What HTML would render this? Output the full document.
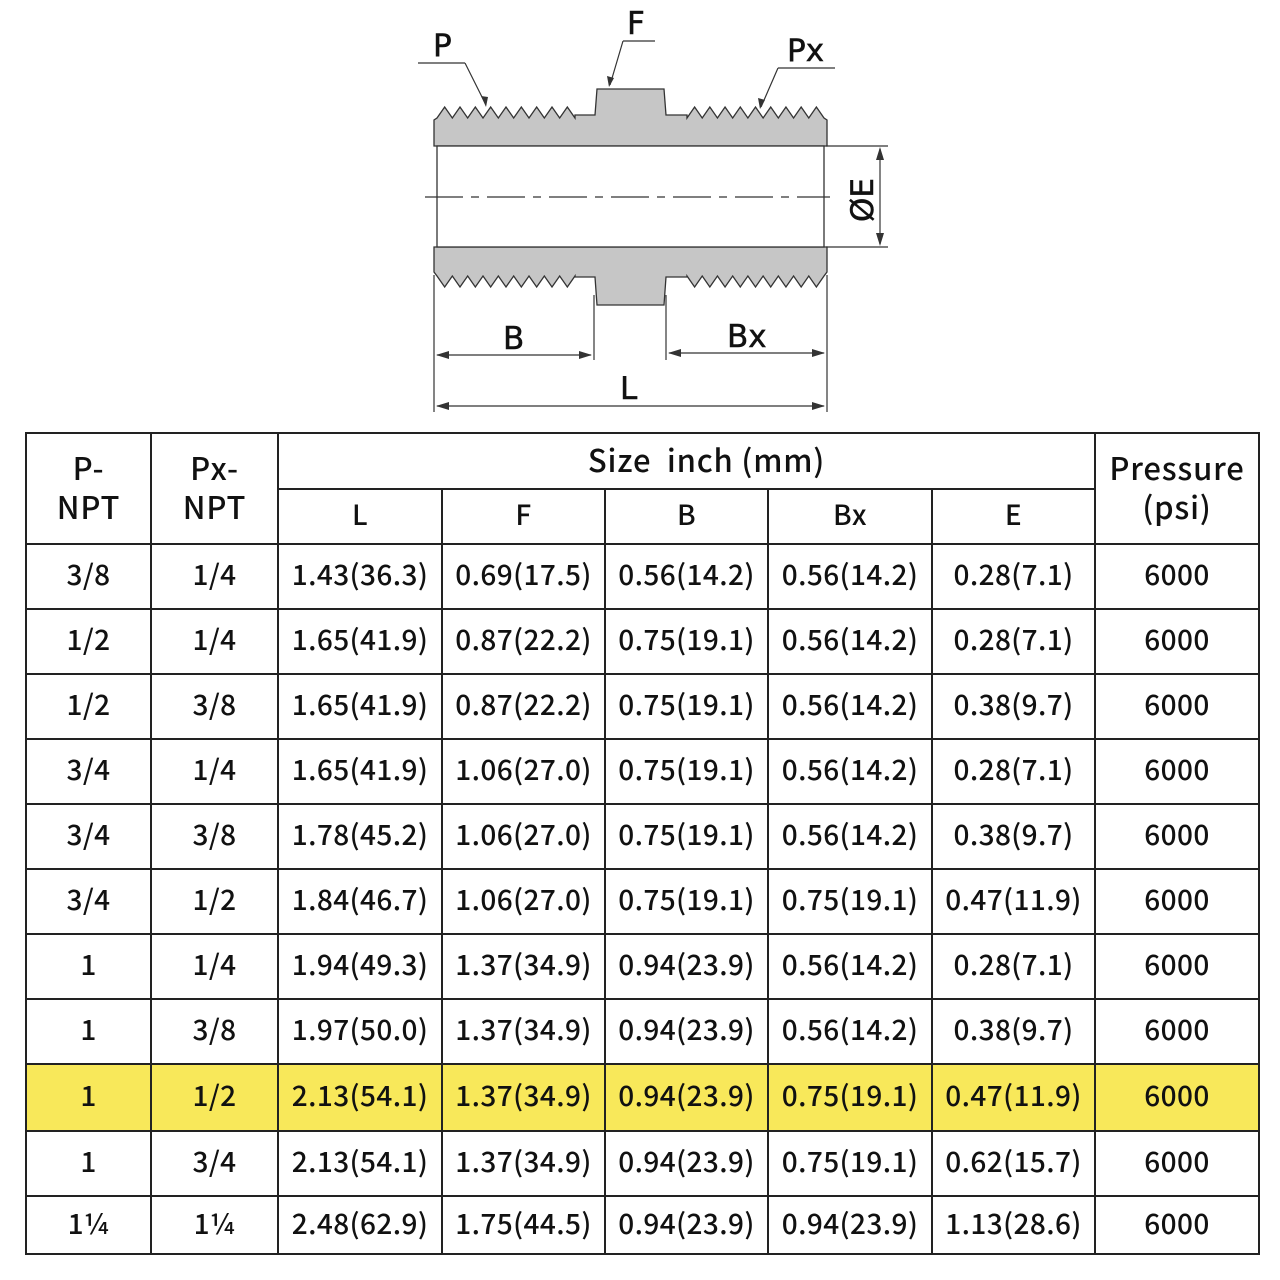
<!DOCTYPE html>
<html><head><meta charset="utf-8"><style>
html,body{margin:0;padding:0;background:#fff;width:1280px;height:1280px;overflow:hidden}
body{font-family:"Noto Sans CJK SC","Liberation Sans",sans-serif;color:#111}
#d{position:absolute;left:0;top:0}
table{position:absolute;left:25px;top:432px;border-collapse:collapse;table-layout:fixed;width:1234px}
td{border:2px solid #222;text-align:center;font-size:28px;font-weight:500;letter-spacing:0.4px;padding:0 0 4px 0;line-height:1.25}
td.h{font-size:31px;letter-spacing:0.8px}
.y td{background:#f8e85a}
</style></head><body>
<svg id="d" width="1280" height="425" viewBox="0 0 1280 425" font-family="DejaVu Sans, sans-serif">
<g id="bodyg" fill="#c6c6c6" stroke="#333" stroke-width="1.3"></g>
<rect x="437" y="146" width="387" height="101" fill="#fff" stroke="#333" stroke-width="1.3"/>
<line x1="425" y1="197" x2="830" y2="197" stroke="#333" stroke-width="1.2" stroke-dasharray="38,8,8,8"/>
<g stroke="#333" stroke-width="1.2" fill="none">
<line x1="418" y1="63" x2="465" y2="63"/><line x1="465" y1="63" x2="486" y2="105"/>
<line x1="623" y1="41" x2="655" y2="41"/><line x1="623" y1="41" x2="610" y2="85"/>
<line x1="778" y1="68" x2="835" y2="68"/><line x1="778" y1="68" x2="761" y2="107"/>
<line x1="826" y1="146" x2="888" y2="146"/><line x1="826" y1="247" x2="888" y2="247"/>
<line x1="880" y1="149" x2="880" y2="244"/>
<line x1="434" y1="275" x2="434" y2="412"/><line x1="827" y1="275" x2="827" y2="412"/>
<line x1="594" y1="295" x2="594" y2="360"/><line x1="666" y1="295" x2="666" y2="360"/>
<line x1="437" y1="355" x2="591" y2="355"/><line x1="669" y1="353" x2="824" y2="353"/>
<line x1="437" y1="406" x2="824" y2="406"/>
</g>
<g fill="#333">
<polygon points="486,107 481,96 488,97"/><polygon points="609,87 607,76 614,78"/><polygon points="760,109 758,98 765,100"/>
<polygon points="880,147 876,160 884,160"/><polygon points="880,246 876,233 884,233"/>
<polygon points="436,355 449,351 449,359"/><polygon points="592,355 579,351 579,359"/>
<polygon points="668,353 681,349 681,357"/><polygon points="825,353 812,349 812,357"/>
<polygon points="436,406 449,402 449,410"/><polygon points="825,406 812,402 812,410"/>
</g>
<g font-size="31" fill="#111" stroke="#111" stroke-width="0.5">
<text x="433" y="56">P</text><text x="627" y="34">F</text><text x="787" y="61">Px</text>
<text x="503" y="349">B</text><text x="727" y="347">Bx</text><text x="620" y="399">L</text>
<text transform="translate(873,222) rotate(-90)">ØE</text>
</g>
</svg>
<script>
function teeth(x0,x1,base,tip,n){var p=[],w=(x1-x0)/n;for(var i=0;i<n;i++){p.push((x0+i*w)+","+base);p.push((x0+i*w+w/2)+","+tip);}p.push(x1+","+base);return p;}
var upper=[].concat(["434,146","434,120"],teeth(437,575,118,107,9),["575,115","595,115","597,89","664,89","666,115","687,115"],teeth(687,824,118,107,9),["827,120","827,146"]);
var lower=[].concat(["434,247","434,272"],teeth(437,575,276,287,9),["575,277","595,277","597,305","664,305","666,277","687,277"],teeth(687,824,276,287,9),["827,272","827,247"]);
var g=document.getElementById("bodyg");
g.innerHTML='<polygon points="'+upper.join(" ")+'"/><polygon points="'+lower.join(" ")+'"/>';
</script>
<table>
<colgroup><col style="width:125px"><col style="width:127px"><col style="width:164px"><col style="width:163px"><col style="width:163px"><col style="width:164px"><col style="width:163px"><col style="width:164px"></colgroup>
<tr style="height:56px"><td rowspan="2" class="h">P-<br>NPT</td><td rowspan="2" class="h">Px-<br>NPT</td><td colspan="5" class="h" style="padding-left:40px">Size&nbsp; inch (mm)</td><td rowspan="2" class="h">Pressure<br>(psi)</td></tr>
<tr style="height:55px"><td>L</td><td>F</td><td>B</td><td>Bx</td><td>E</td></tr>
<tr style="height:65px"><td>3/8</td><td>1/4</td><td>1.43(36.3)</td><td>0.69(17.5)</td><td>0.56(14.2)</td><td>0.56(14.2)</td><td>0.28(7.1)</td><td>6000</td></tr>
<tr style="height:65px"><td>1/2</td><td>1/4</td><td>1.65(41.9)</td><td>0.87(22.2)</td><td>0.75(19.1)</td><td>0.56(14.2)</td><td>0.28(7.1)</td><td>6000</td></tr>
<tr style="height:65px"><td>1/2</td><td>3/8</td><td>1.65(41.9)</td><td>0.87(22.2)</td><td>0.75(19.1)</td><td>0.56(14.2)</td><td>0.38(9.7)</td><td>6000</td></tr>
<tr style="height:65px"><td>3/4</td><td>1/4</td><td>1.65(41.9)</td><td>1.06(27.0)</td><td>0.75(19.1)</td><td>0.56(14.2)</td><td>0.28(7.1)</td><td>6000</td></tr>
<tr style="height:65px"><td>3/4</td><td>3/8</td><td>1.78(45.2)</td><td>1.06(27.0)</td><td>0.75(19.1)</td><td>0.56(14.2)</td><td>0.38(9.7)</td><td>6000</td></tr>
<tr style="height:65px"><td>3/4</td><td>1/2</td><td>1.84(46.7)</td><td>1.06(27.0)</td><td>0.75(19.1)</td><td>0.75(19.1)</td><td>0.47(11.9)</td><td>6000</td></tr>
<tr style="height:65px"><td>1</td><td>1/4</td><td>1.94(49.3)</td><td>1.37(34.9)</td><td>0.94(23.9)</td><td>0.56(14.2)</td><td>0.28(7.1)</td><td>6000</td></tr>
<tr style="height:65px"><td>1</td><td>3/8</td><td>1.97(50.0)</td><td>1.37(34.9)</td><td>0.94(23.9)</td><td>0.56(14.2)</td><td>0.38(9.7)</td><td>6000</td></tr>
<tr class="y" style="height:67px"><td>1</td><td>1/2</td><td>2.13(54.1)</td><td>1.37(34.9)</td><td>0.94(23.9)</td><td>0.75(19.1)</td><td>0.47(11.9)</td><td>6000</td></tr>
<tr style="height:65px"><td>1</td><td>3/4</td><td>2.13(54.1)</td><td>1.37(34.9)</td><td>0.94(23.9)</td><td>0.75(19.1)</td><td>0.62(15.7)</td><td>6000</td></tr>
<tr style="height:58px"><td>1¼</td><td>1¼</td><td>2.48(62.9)</td><td>1.75(44.5)</td><td>0.94(23.9)</td><td>0.94(23.9)</td><td>1.13(28.6)</td><td>6000</td></tr>
</table>
</body></html>
